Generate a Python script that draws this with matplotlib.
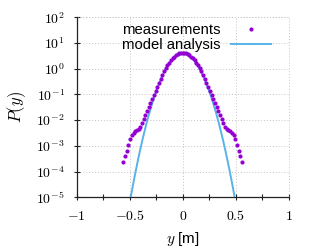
import matplotlib
matplotlib.use("Agg")
import matplotlib.pyplot as plt
from matplotlib.ticker import FixedLocator, NullLocator

plt.rcParams['mathtext.fontset'] = 'cm'
plt.rcParams['font.family'] = ['Liberation Sans', 'DejaVu Sans']

# measurements (y in m, P(y))
meas_x = [-0.560, -0.544, -0.528, -0.512, -0.496, -0.480, -0.464, -0.448, -0.432, -0.416,
          -0.400, -0.384, -0.368, -0.352, -0.336, -0.320, -0.304, -0.288, -0.272, -0.256,
          -0.240, -0.224, -0.208, -0.192, -0.176, -0.160, -0.144, -0.128, -0.112, -0.096,
          -0.080, -0.064, -0.048, -0.032, -0.016, 0.000, 0.016, 0.032, 0.048, 0.064,
          0.080, 0.096, 0.112, 0.128, 0.144, 0.160, 0.176, 0.192, 0.208, 0.224,
          0.240, 0.256, 0.272, 0.288, 0.304, 0.320, 0.336, 0.352, 0.368, 0.384,
          0.400, 0.416, 0.432, 0.448, 0.464, 0.480, 0.496, 0.512, 0.528, 0.544, 0.560]
meas_p = [2.40e-4, 3.89e-4, 6.46e-4, 1.07e-3, 1.82e-3, 2.75e-3, 3.24e-3, 3.63e-3, 4.07e-3, 4.68e-3,
          5.62e-3, 7.59e-3, 1.10e-2, 1.66e-2, 2.34e-2, 3.31e-2, 4.68e-2, 6.60e-2, 9.55e-2, 0.132,
          0.192, 0.286, 0.413, 0.582, 0.797, 1.06, 1.38, 1.74, 2.13, 2.55,
          2.96, 3.35, 3.69, 3.95, 4.11, 4.17, 4.11, 3.95, 3.69, 3.35,
          2.96, 2.55, 2.13, 1.74, 1.38, 1.06, 0.797, 0.582, 0.413, 0.286,
          0.192, 0.132, 9.55e-2, 6.60e-2, 4.68e-2, 3.31e-2, 2.34e-2, 1.66e-2, 1.10e-2, 7.59e-3,
          5.62e-3, 4.68e-3, 4.07e-3, 3.63e-3, 3.24e-3, 2.75e-3, 1.82e-3, 1.07e-3, 6.46e-4, 3.89e-4, 2.40e-4]

# model analysis
model_x = [-0.50, -0.48, -0.46, -0.44, -0.42, -0.40, -0.38, -0.36, -0.34, -0.32,
           -0.30, -0.28, -0.26, -0.24, -0.22, -0.20, -0.18, -0.16, -0.14, -0.12,
           -0.10, -0.08, -0.06, -0.04, -0.02, 0.00, 0.02, 0.04, 0.06, 0.08,
           0.10, 0.12, 0.14, 0.16, 0.18, 0.20, 0.22, 0.24, 0.26, 0.28,
           0.30, 0.32, 0.34, 0.36, 0.38, 0.40, 0.42, 0.44, 0.46, 0.48, 0.50]
model_p = [6.0e-6, 1.717e-5, 4.69e-5, 1.226e-4, 3.07e-4, 7.38e-4, 1.70e-3, 3.74e-3, 7.91e-3, 1.60e-2,
           3.10e-2, 5.77e-2, 0.1027, 0.1753, 0.2865, 0.449, 0.673, 0.969, 1.335, 1.76,
           2.23, 2.70, 3.14, 3.49, 3.72, 3.80, 3.72, 3.49, 3.14, 2.70,
           2.23, 1.76, 1.335, 0.969, 0.673, 0.449, 0.2865, 0.1753, 0.1027, 5.77e-2,
           3.10e-2, 1.60e-2, 7.91e-3, 3.74e-3, 1.70e-3, 7.38e-4, 3.07e-4, 1.226e-4, 4.69e-5, 1.717e-5, 6.0e-6]

x_ticks = [-1, -0.5, 0, 0.5, 1]
x_ticklabels = [r'$-1$', r'$-0.5$', r'$0$', r'$0.5$', r'$1$']
x_minor = [-0.75, -0.25, 0.25, 0.75]
y_exps = [-5, -4, -3, -2, -1, 0, 1, 2]

fig = plt.figure(figsize=(3.16, 2.49), dpi=100)
ax = fig.add_axes([0.2427, 0.2076, 0.6709, 0.7229])

ax.plot(model_x, model_p, color='#56b4e9', lw=1.4, label='model analysis', zorder=3)
ax.plot(meas_x, meas_p, ls='none', marker='o', ms=3.0, mec='none', color='#9400d3',
        label='measurements', zorder=4)

ax.set_yscale('log')
ax.set_xlim(-1, 1)
ax.set_ylim(1e-5, 1e2)

ax.xaxis.set_major_locator(FixedLocator(x_ticks))
ax.set_xticklabels(x_ticklabels)
ax.xaxis.set_minor_locator(FixedLocator(x_minor))
ytick_vals = [10.0 ** e for e in y_exps]
ax.yaxis.set_major_locator(FixedLocator(ytick_vals))
ax.set_yticklabels([r'$10^{%d}$' % e for e in y_exps])
ax.yaxis.set_minor_locator(NullLocator())

ax.tick_params(axis='both', which='major', direction='inout', length=5, width=0.8,
               labelsize=10, color='#222222')
ax.tick_params(axis='x', which='minor', direction='inout', length=4, width=0.8, color='#222222')
ax.tick_params(axis='y', pad=6)
ax.tick_params(axis='x', pad=6)

for s in ['top', 'right']:
    ax.spines[s].set_visible(False)
for s in ['left', 'bottom']:
    ax.spines[s].set_color('#222222')
    ax.spines[s].set_linewidth(0.9)

ax.grid(True, which='major', color='#c4c4c4', lw=0.7, ls=(0, (1, 2)))
ax.set_axisbelow(True)
ax.axhline(1e2, color='#c4c4c4', lw=0.7, ls=(0, (1, 2)), clip_on=False)
ax.axvline(1, color='#c4c4c4', lw=0.7, ls=(0, (1, 2)), clip_on=False)

ax.set_ylabel(r'$P(y)$', fontsize=12, labelpad=6)
ax.set_xlabel(r'$y$ [m]', fontsize=11, labelpad=5)

h, l = ax.get_legend_handles_labels()
leg = ax.legend(h[::-1], l[::-1], loc='upper right', bbox_to_anchor=(271 / 316, 1 - 23 / 249),
                bbox_transform=fig.transFigure, frameon=False, markerfirst=False,
                numpoints=1, handlelength=2.7, handletextpad=0.7, labelspacing=0.05,
                borderpad=0, borderaxespad=0, prop={'family': 'Liberation Sans', 'size': 10.7})

fig.savefig('out.png', dpi=100)
